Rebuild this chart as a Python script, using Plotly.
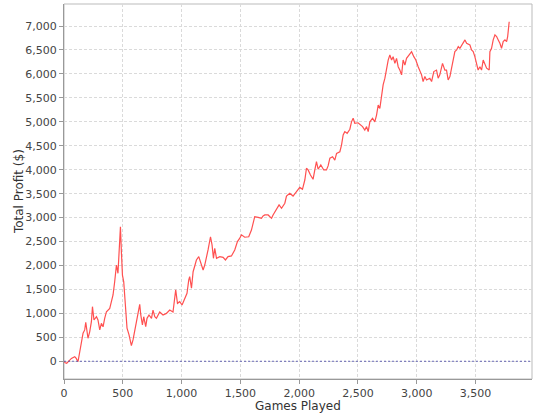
import plotly.graph_objects as go

games = [0, 10, 23, 48, 63, 91, 104, 119, 134, 148, 162, 176, 185, 204, 219, 233, 242, 255, 276, 289,
         304, 318, 332, 346, 361, 389, 403, 417, 431, 446, 459, 468, 474, 480, 488, 497, 508, 516, 525, 536,
         553, 565, 573, 587, 602, 616, 630, 644, 653, 667, 678, 695, 706, 723, 744, 757, 772, 786, 814, 842,
         871, 899, 927, 942, 950, 965, 984, 1004, 1027, 1046, 1061, 1069, 1084, 1098, 1112, 1126, 1146, 1163, 1183, 1197,
         1212, 1225, 1246, 1259, 1271, 1282, 1297, 1325, 1353, 1373, 1395, 1424, 1452, 1475, 1495, 1509, 1537, 1571, 1594, 1622,
         1651, 1679, 1693, 1708, 1736, 1765, 1778, 1807, 1829, 1850, 1878, 1892, 1920, 1948, 1977, 2005, 2028, 2048, 2062, 2076,
         2096, 2118, 2133, 2147, 2161, 2184, 2209, 2232, 2246, 2261, 2284, 2303, 2318, 2346, 2360, 2374, 2388, 2408, 2431, 2445,
         2459, 2473, 2501, 2516, 2539, 2558, 2573, 2587, 2601, 2624, 2643, 2658, 2672, 2686, 2700, 2714, 2729, 2743, 2757, 2771,
         2786, 2799, 2814, 2828, 2842, 2856, 2871, 2884, 2899, 2913, 2935, 2956, 2975, 2992, 3012, 3026, 3041, 3054, 3069, 3083,
         3111, 3126, 3145, 3168, 3182, 3196, 3219, 3239, 3253, 3267, 3282, 3296, 3310, 3324, 3339, 3353, 3367, 3395, 3410, 3424,
         3452, 3466, 3480, 3494, 3509, 3522, 3537, 3551, 3565, 3579, 3594, 3616, 3622, 3636, 3650, 3665, 3679, 3693, 3707, 3721,
         3735, 3750, 3764, 3773, 3778, 3786]

profit = [0, -30, -40, 25, 60, 96, 60, -10, 200, 375, 585, 655, 815, 480, 620, 827, 1140, 862, 930, 862,
          655, 793, 720, 897, 1035, 1105, 1245, 1385, 1660, 2010, 1837, 2220, 2463, 2810, 2290, 1800, 1660, 1420, 967, 690,
          550, 410, 326, 445, 655, 827, 1000, 1190, 967, 758, 930, 722, 897, 967, 897, 1070, 930, 897, 1030, 967,
          1000, 1070, 1030, 1350, 1490, 1210, 1245, 1175, 1315, 1420, 1700, 1766, 1525, 1870, 1990, 2115, 2185, 2060, 1906, 2010,
          2220, 2325, 2600, 2430, 2150, 2360, 2150, 2185, 2170, 2115, 2185, 2200, 2325, 2500, 2570, 2640, 2590, 2600, 2740, 3020,
          3005, 2985, 3035, 3055, 3055, 2985, 3055, 3175, 3265, 3195, 3300, 3450, 3510, 3450, 3540, 3630, 3590, 3785, 4030, 3995,
          3890, 3800, 3995, 4170, 4010, 4100, 3995, 3995, 4080, 4240, 4270, 4200, 4340, 4375, 4515, 4725, 4795, 4760, 4845, 5000,
          5075, 4970, 4980, 4950, 4900, 4830, 4900, 4795, 5000, 5075, 5000, 5140, 5350, 5280, 5525, 5770, 5910, 6120, 6290, 6395,
          6290, 6360, 6220, 6325, 6150, 6080, 5980, 6290, 6185, 6325, 6395, 6465, 6360, 6290, 6150, 6080, 5980, 5840, 5945, 5875,
          5910, 5840, 6050, 6080, 5910, 5980, 6220, 6080, 6080, 5875, 5945, 6120, 6290, 6465, 6500, 6570, 6535, 6640, 6710, 6640,
          6605, 6500, 6465, 6360, 6185, 6080, 6150, 6080, 6290, 6185, 6120, 6080, 6465, 6535, 6710, 6815, 6780, 6710, 6640, 6535,
          6675, 6710, 6675, 6780, 6920, 7090]

x_title = "Games Played"
y_title = "Total Profit ($)"

fig = go.Figure()
fig.add_trace(go.Scatter(x=games, y=profit, mode="lines",
                         line=dict(color="#ff5050", width=1.2), hoverinfo="skip"))

axis_common = dict(
    showgrid=True, gridcolor="#dadada", griddash="3px,2px", gridwidth=1,
    showline=True, linecolor="#999999", linewidth=1, mirror=False,
    ticks="outside", ticklen=4, tickcolor="#999999",
    tickfont=dict(family="DejaVu Sans", size=11, color="#444444"),
    zeroline=False, tickformat=",d", dtick=500, tick0=0,
)

fig.update_xaxes(range=[0, 3980], **axis_common)
fig.update_yaxes(range=[-370, 7460], **axis_common)

fig.update_layout(
    width=540, height=420,
    margin=dict(l=64, r=8, t=4, b=41),
    paper_bgcolor="white", plot_bgcolor="white",
    showlegend=False,
    shapes=[
        dict(type="line", xref="paper", x0=0, x1=1, yref="y", y0=0, y1=0,
             line=dict(color="rgba(80,80,170,0.85)", width=1, dash="2px,2px")),
        dict(type="rect", xref="paper", yref="paper", x0=0, x1=1, y0=0, y1=1,
             line=dict(color="#bbbbbb", width=1), layer="below"),
    ],
    annotations=[
        dict(text=x_title, xref="paper", yref="paper", x=0.5, y=-0.072,
             xanchor="center", yanchor="middle", showarrow=False,
             font=dict(family="DejaVu Sans", size=12, color="#333333")),
        dict(text=y_title, xref="paper", yref="paper", x=-0.097, y=0.5,
             xanchor="center", yanchor="middle", showarrow=False, textangle=-90,
             font=dict(family="DejaVu Sans", size=12, color="#333333")),
    ],
)

fig.write_html("out.html", config={"displayModeBar": False},
               post_script="document.body.style.margin='0';document.body.style.padding='0';")
